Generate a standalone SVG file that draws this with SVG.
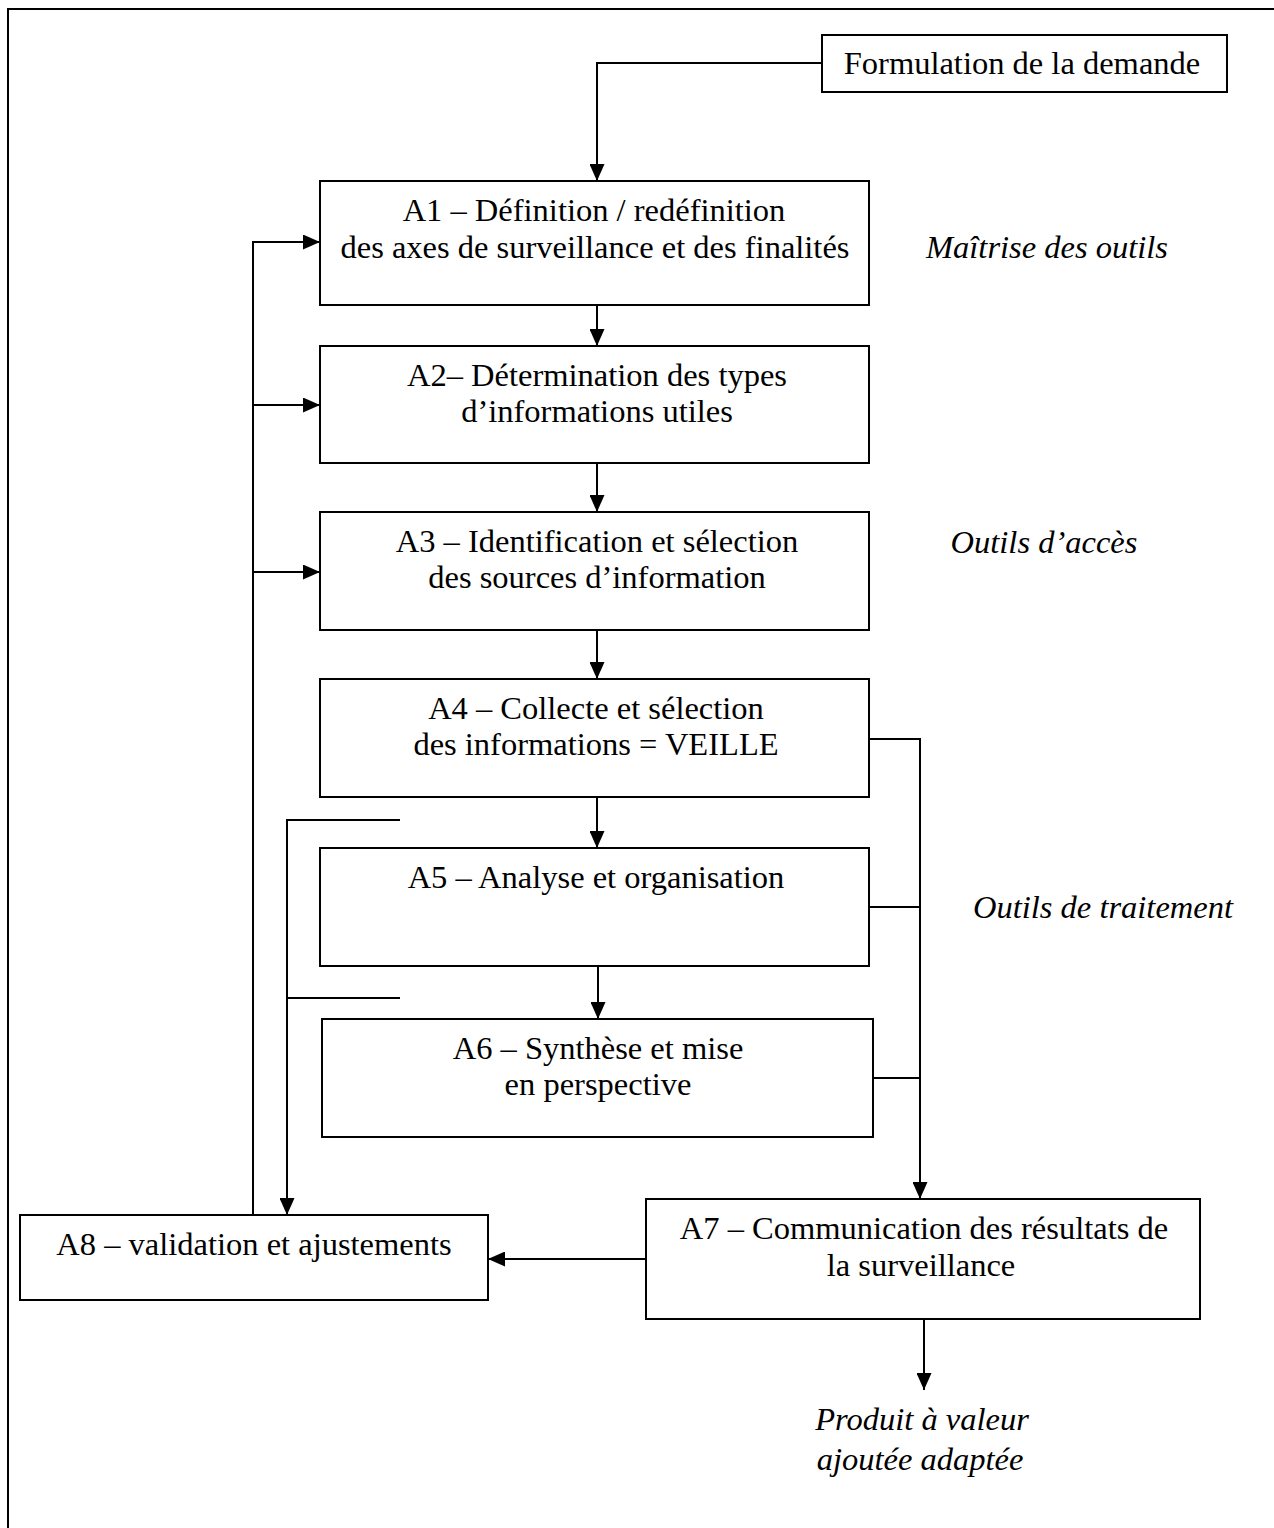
<svg xmlns="http://www.w3.org/2000/svg" width="1274" height="1528" viewBox="0 0 1274 1528">
<style>
.box{fill:#fff;stroke:#000;stroke-width:2}
.ln{fill:none;stroke:#000;stroke-width:2}
.t{font-family:"Liberation Serif","Times New Roman",serif;font-size:32.5px;fill:#000;text-anchor:middle}
.i{font-style:italic}
</style>
<defs>
<marker id="ar" markerUnits="userSpaceOnUse" markerWidth="17" markerHeight="15" refX="17" refY="7.5" orient="auto">
<path d="M0,0 L17,7.5 L0,15 Z" fill="#000"/>
</marker>
</defs>
<rect width="1274" height="1528" fill="#fff"/>
<path class="ln" d="M8,1528 V9 H1274"/>
<g id="connectors">
<path class="ln" d="M822,63 H597 V181" marker-end="url(#ar)"/>
<path class="ln" d="M597,305 V346" marker-end="url(#ar)"/>
<path class="ln" d="M597,463 V512" marker-end="url(#ar)"/>
<path class="ln" d="M597,630 V679" marker-end="url(#ar)"/>
<path class="ln" d="M597,797 V848" marker-end="url(#ar)"/>
<path class="ln" d="M598,966 V1019" marker-end="url(#ar)"/>
<path class="ln" d="M253,1215 V242 H320" marker-end="url(#ar)"/>
<path class="ln" d="M253,405 H320" marker-end="url(#ar)"/>
<path class="ln" d="M253,572 H320" marker-end="url(#ar)"/>
<path class="ln" d="M400,820 H287 V1215" marker-end="url(#ar)"/>
<path class="ln" d="M287,998 H400"/>
<path class="ln" d="M869,739 H920 V1199" marker-end="url(#ar)"/>
<path class="ln" d="M869,907 H920"/>
<path class="ln" d="M873,1078 H920"/>
<path class="ln" d="M646,1259 H488" marker-end="url(#ar)"/>
<path class="ln" d="M924,1319 V1390" marker-end="url(#ar)"/>
</g>
<g id="formulation">
<rect class="box" x="822" y="35" width="405" height="57"/>
<text class="t" x="1022" y="74">Formulation de la demande</text>
</g>
<g id="A1">
<rect class="box" x="320" y="181" width="549" height="124"/>
<text class="t" x="594" y="221">A1 – Définition / redéfinition</text>
<text class="t" x="595" y="258">des axes de surveillance et des finalités</text>
</g>
<g id="A2">
<rect class="box" x="320" y="346" width="549" height="117"/>
<text class="t" x="597" y="386">A2– Détermination des types</text>
<text class="t" x="597" y="422">d’informations utiles</text>
</g>
<g id="A3">
<rect class="box" x="320" y="512" width="549" height="118"/>
<text class="t" x="597" y="552">A3 – Identification et sélection</text>
<text class="t" x="597" y="588">des sources d’information</text>
</g>
<g id="A4">
<rect class="box" x="320" y="679" width="549" height="118"/>
<text class="t" x="596" y="719">A4 – Collecte et sélection</text>
<text class="t" x="596" y="755">des informations = VEILLE</text>
</g>
<g id="A5">
<rect class="box" x="320" y="848" width="549" height="118"/>
<text class="t" x="596" y="888">A5 – Analyse et organisation</text>
</g>
<g id="A6">
<rect class="box" x="322" y="1019" width="551" height="118"/>
<text class="t" x="598" y="1059">A6 – Synthèse et mise</text>
<text class="t" x="598" y="1095">en perspective</text>
</g>
<g id="A7">
<rect class="box" x="646" y="1199" width="554" height="120"/>
<text class="t" x="924" y="1239">A7 – Communication des résultats de</text>
<text class="t" x="921" y="1276">la surveillance</text>
</g>
<g id="A8">
<rect class="box" x="20" y="1215" width="468" height="85"/>
<text class="t" x="254" y="1255">A8 – validation et ajustements</text>
</g>
<g id="labels">
<text class="t i" x="1047" y="258">Maîtrise des outils</text>
<text class="t i" x="1044" y="553">Outils d’accès</text>
<text class="t i" x="1103" y="918">Outils de traitement</text>
<text class="t i" x="922" y="1430">Produit à valeur</text>
<text class="t i" x="920" y="1470">ajoutée adaptée</text>
</g>
</svg>
